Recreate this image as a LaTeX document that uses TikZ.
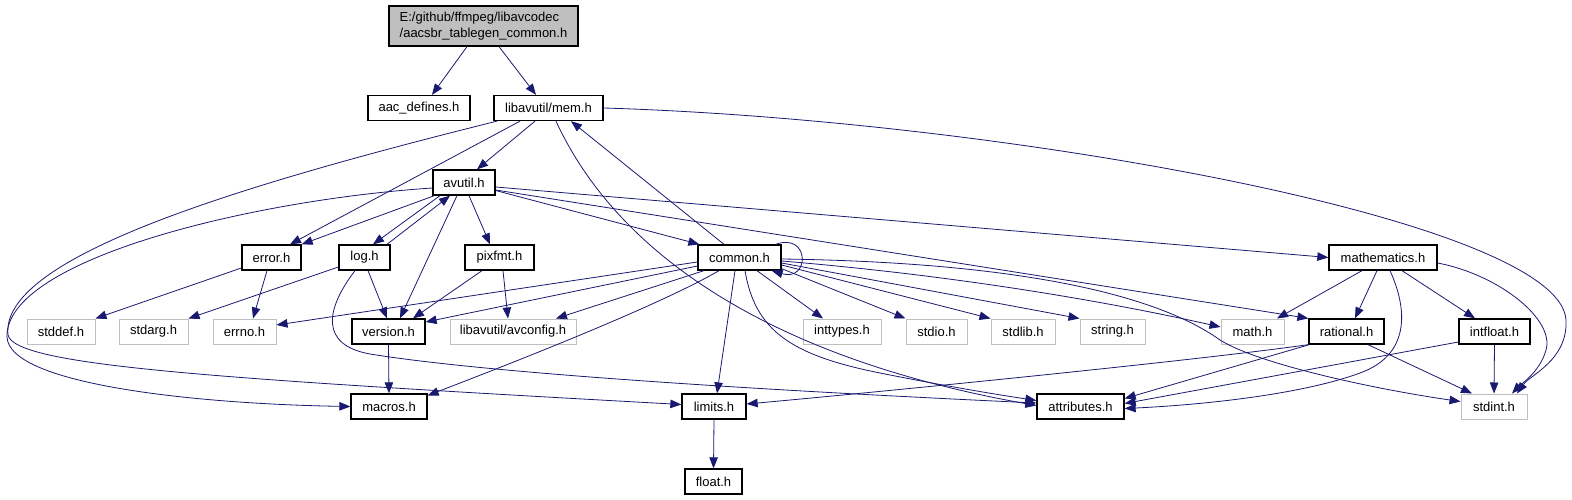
\documentclass[tikz,border=0pt]{standalone}
\usepackage{fontspec}
\setmainfont{Liberation Sans}
\usepackage{xcolor}
\usepackage{tikz}
\usetikzlibrary{arrows.meta}
\definecolor{depBlue}{HTML}{191970}
\definecolor{extGray}{HTML}{BFBFBF}

\begin{document}
\begin{tikzpicture}[x=1pt,y=-1pt,>={Triangle[length=11pt,width=8.5pt]},
    hdr/.style={draw=black,line width=1.3pt,fill=white,inner sep=0pt,minimum height=25,
      font=\fontsize{13}{15}\selectfont},
    ext/.style={hdr,draw=extGray,line width=1pt},
    dep/.style={->,depBlue,line width=0.8pt}]
    \useasboundingbox (0,0) rectangle (1572,500);
    % files
    \node[hdr,fill=extGray,minimum width=189,minimum height=40,align=left,
      font=\fontsize{13}{16}\selectfont] (root) at (483.5,26)
      {E:/github/ffmpeg/libavcodec\\/aacsbr\_tablegen\_common.h};
    \node[hdr,minimum width=102] (aacdef) at (419,108) {aac\_defines.h};
    \node[hdr,minimum width=109] (mem) at (548.5,108) {libavutil/mem.h};
    \node[hdr,minimum width=62] (avutil) at (464,182.5) {avutil.h};
    \node[hdr,minimum width=59] (error) at (271.5,257.5) {error.h};
    \node[hdr,minimum width=51] (log) at (364.5,257.5) {log.h};
    \node[hdr,minimum width=69] (pixfmt) at (499.5,257.5) {pixfmt.h};
    \node[hdr,minimum width=83] (common) at (739.5,257.5) {common.h};
    \node[hdr,minimum width=108] (mathematics) at (1383,257.5) {mathematics.h};
    \node[ext,minimum width=68] (stddef) at (61,331.5) {stddef.h};
    \node[ext,minimum width=69] (stdarg) at (153.5,331.5) {stdarg.h};
    \node[ext,minimum width=63] (errno) at (244.5,331.5) {errno.h};
    \node[hdr,minimum width=73] (version) at (388.5,331.5) {version.h};
    \node[ext,minimum width=126] (avconfig) at (513,331.5) {libavutil/avconfig.h};
    \node[ext,minimum width=78] (inttypes) at (842,331.5) {inttypes.h};
    \node[ext,minimum width=61] (stdio) at (936.5,331.5) {stdio.h};
    \node[ext,minimum width=64] (stdlib) at (1023,331.5) {stdlib.h};
    \node[ext,minimum width=65] (string) at (1112.5,331.5) {string.h};
    \node[ext,minimum width=63] (math) at (1252.5,331.5) {math.h};
    \node[hdr,minimum width=75] (rational) at (1346.5,331.5) {rational.h};
    \node[hdr,minimum width=71] (intfloat) at (1494.5,331.5) {intfloat.h};
    \node[hdr,minimum width=76] (macros) at (389,406.5) {macros.h};
    \node[hdr,minimum width=64] (limits) at (714,406.5) {limits.h};
    \node[hdr,minimum width=87] (attributes) at (1080.5,406.5) {attributes.h};
    \node[ext,minimum width=66] (stdint) at (1494,406.5) {stdint.h};
    \node[hdr,minimum width=57] (float) at (713.5,481.5) {float.h};
    % includes of the root and mem.h
    \draw[dep] ([xshift=-16.5]root.south) -- ([xshift=13]aacdef.north);
    \draw[dep] ([xshift=15.5]root.south) -- ([xshift=-12.5]mem.north);
    \draw[dep] ([xshift=-13.5]mem.south) -- ([xshift=13]avutil.north);
    \draw[dep] ([xshift=-28.5]mem.south) -- ([xshift=18.5]error.north);
    \draw[dep] ([xshift=-51.5]mem.south) .. controls (220,190) and (0,260) .. (8,335)
      .. controls (15,365) and (200,378) .. ([yshift=2]limits.west);
    \draw[dep] ([xshift=7.5]mem.south) .. controls (620,260) and (780,360) .. ([yshift=1]attributes.west);
    \draw[dep] (mem.east) .. controls (1000,120) and (1560,220) .. (1566,320)
      .. controls (1568,360) and (1530,375) .. ([xshift=23]stdint.north);
    % avutil.h
    \draw[dep] ([yshift=-5.5]avutil.west) .. controls (250,200) and (5,260) .. (7,337)
      .. controls (9,385) and (200,404) .. (macros.west);
    \draw[dep] ([xshift=2]avutil.south west) -- (error.north east);
    \draw[dep] ([xshift=-24]avutil.south) -- ([xshift=8.5]log.north);
    \draw[dep] ([xshift=22.5]log.north) -- ([xshift=-14]avutil.south);
    \draw[dep] ([xshift=-7]avutil.south) -- ([xshift=11.5]version.north);
    \draw[dep] ([xshift=5]avutil.south) -- ([xshift=-9.5]pixfmt.north);
    \draw[dep] ([yshift=-8]avutil.east) -- ([xshift=2]common.north west);
    \draw[dep] ([yshift=-4.5]avutil.east) -- (mathematics.west);
    \draw[dep] ([yshift=-7.5]avutil.east) -- (rational.north west);
    % common.h
    \draw[dep] ([xshift=-15.5]common.north) -- ([xshift=22.5]mem.south);
    \draw[dep] ([xshift=-6]common.north east) .. controls (810,232) and (810,282) .. ([xshift=-10]common.south east);
    \draw[dep] ([yshift=-4.5]common.west) -- ([yshift=6.5]errno.east);
    \draw[dep] ([yshift=-8.5]common.west) -- ([yshift=9.5]version.east);
    \draw[dep] ([xshift=-35.5]common.south) -- ([xshift=43]avconfig.north);
    \draw[dep] ([xshift=-20.5]common.south) .. controls (660,305) and (520,360) .. ([yshift=11]macros.east);
    \draw[dep] ([xshift=-4.5]common.south) -- ([xshift=3]limits.north);
    \draw[dep] ([xshift=5.5]common.south) .. controls (755,330) and (790,355) .. (880,373)
      .. controls (950,387) and (1000,395) .. ([yshift=6]attributes.west);
    \draw[dep] ([xshift=17.5]common.south) -- ([xshift=-19]inttypes.north);
    \draw[dep] ([yshift=2]common.south east) -- (stdio.north west);
    \draw[dep] ([yshift=-7.5]common.east) -- (stdlib.north west);
    \draw[dep] ([yshift=-5.5]common.east) -- (string.north west);
    \draw[dep] ([yshift=-3.5]common.east) .. controls (950,275) and (1100,300) .. ([yshift=4.5]math.west);
    \draw[dep] ([yshift=-1.5]common.east) .. controls (1000,262) and (1150,290) .. (1220,340)
      .. controls (1260,365) and (1380,390) .. ([yshift=5]stdint.west);
    % error.h, log.h, pixfmt.h, version.h
    \draw[dep] ([yshift=-10.5]error.west) -- (stddef.north east);
    \draw[dep] ([xshift=-4.5]error.south) -- ([xshift=8.5]errno.north);
    \draw[dep] ([yshift=-9.5]log.west) -- (stdarg.north east);
    \draw[dep] ([xshift=3.5]log.south) -- ([xshift=-1.5]version.north);
    \draw[dep] ([xshift=-9.5]log.south) .. controls (325,310) and (320,345) .. (370,354)
      .. controls (500,375) and (800,392) .. ([yshift=3.5]attributes.west);
    \draw[dep] ([xshift=-17.5]pixfmt.south) -- ([xshift=24.5]version.north);
    \draw[dep] ([xshift=3.5]pixfmt.south) -- ([xshift=-5]avconfig.north);
    \draw[dep] (version.south) -- (macros.north);
    \draw[dep] (limits.south) -- (float.north);
    % mathematics.h, rational.h, intfloat.h
    \draw[dep] ([xshift=-21]mathematics.south) -- ([xshift=24.5]math.north);
    \draw[dep] ([xshift=-6]mathematics.south) -- ([xshift=8.5]rational.north);
    \draw[dep] ([xshift=7]mathematics.south) .. controls (1408,310) and (1410,355) .. (1360,373)
      .. controls (1300,395) and (1200,405) .. ([yshift=-2]attributes.east);
    \draw[dep] ([xshift=19]mathematics.south) -- ([xshift=-19.5]intfloat.north);
    \draw[dep] ([yshift=-5.5]mathematics.east) .. controls (1500,275) and (1555,320) .. (1546,350)
      .. controls (1540,372) and (1520,385) .. ([xshift=18]stdint.north);
    \draw[dep] (rational.south west) .. controls (1200,360) and (900,390) .. ([yshift=2.5]limits.east);
    \draw[dep] ([xshift=1]rational.south west) -- ([yshift=8]attributes.east);
    \draw[dep] ([xshift=21.5]rational.south) -- ([xshift=-22]stdint.north);
    \draw[dep] ([yshift=-10.5]intfloat.west) -- ([yshift=3]attributes.east);
    \draw[dep] (intfloat.south) -- (stdint.north);
\end{tikzpicture}
\end{document}
